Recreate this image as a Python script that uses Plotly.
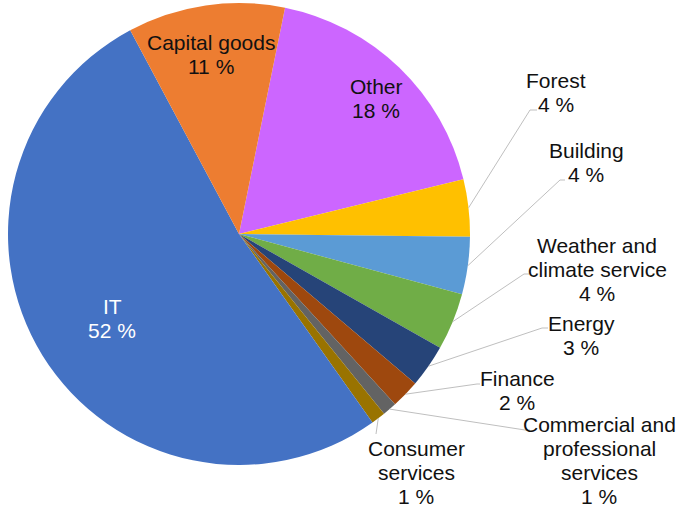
import math
import plotly.graph_objects as go

# Share of companies by sector (percent), in clockwise order
categories = ["Other", "Forest", "Building", "Weather and climate service", "Energy",
              "Finance", "Commercial and professional services", "Consumer services",
              "IT", "Capital goods"]
values = [18, 4, 4, 4, 3, 2, 1, 1, 52, 11]
label_text = ["Other", "Forest", "Building", "Weather and<br>climate service", "Energy",
              "Finance", "Commercial and<br>professional<br>services", "Consumer<br>services",
              "IT", "Capital goods"]
colors = ["#CC66FF", "#FFC000", "#5B9BD5", "#70AD47", "#264478",
          "#9E480E", "#636363", "#997300", "#4472C4", "#ED7D31"]

W, H = 677, 508
CX, CY, R = 239, 234, 231
ROT = 11.5
FONT = "Liberation Sans, Arial, sans-serif"
FS = 21
LINE_H = 24

# label block centre (x, first-line y) in pixels
label_pos = {
    "Other": (376, 86), "Forest": (556, 80), "Building": (586, 150),
    "Weather and climate service": (597, 245), "Energy": (581, 323),
    "Finance": (517, 378), "Commercial and professional services": (599, 424),
    "Consumer services": (416, 448), "IT": (112, 306), "Capital goods": (211, 42),
}
# leader-line elbows for the outside labels: (elbow x, elbow y, end x)
leaders = {
    "Forest": (530, 110, 537), "Building": (560, 180, 565),
    "Weather and climate service": (524, 274, 529), "Energy": (542, 328, 548),
    "Finance": (477, 384, 480), "Commercial and professional services": (525, 430, 530),
    "Consumer services": (376, 434, 376),
}
text_color = {"IT": "white"}

fig = go.Figure()
fig.add_trace(go.Pie(
    labels=categories, values=values, sort=False, direction="clockwise",
    rotation=ROT, marker=dict(colors=colors, line=dict(width=0)),
    textinfo="none", hoverinfo="label+percent", showlegend=False,
    domain=dict(x=[(CX - R) / W, (CX + R) / W], y=[1 - (CY + R) / H, 1 - (CY - R) / H]),
))

total = sum(values)
cum = 0.0
shapes = []
annotations = []
for cat, val, txt in zip(categories, values, label_text):
    mid = math.radians(ROT + (cum + val / 2) / total * 360)
    cum += val
    if cat in leaders:
        ex, ey, hx = leaders[cat]
        sx = CX + R * math.sin(mid)
        sy = CY - R * math.cos(mid)
        path = f"M {sx:.1f},{sy:.1f} L {ex},{ey} L {hx},{ey}"
        shapes.append(dict(type="path", path=path, xref="x", yref="y",
                           line=dict(color="#BFBFBF", width=1)))
    lx, ly = label_pos[cat]
    lines = txt.split("<br>") + [f"{val} %"]
    for i, line in enumerate(lines):
        annotations.append(dict(
            x=lx, y=ly + i * LINE_H, xref="x", yref="y", text=line, showarrow=False,
            xanchor="center", yanchor="middle", borderpad=0,
            font=dict(family=FONT, size=FS, color=text_color.get(cat, "#111111")),
        ))

fig.update_layout(
    width=W, height=H, margin=dict(l=0, r=0, t=0, b=0),
    paper_bgcolor="white", plot_bgcolor="rgba(0,0,0,0)",
    xaxis=dict(range=[0, W], visible=False, fixedrange=True),
    yaxis=dict(range=[H, 0], visible=False, fixedrange=True),
    shapes=shapes, annotations=annotations,
)

fig.write_html("out.html")
